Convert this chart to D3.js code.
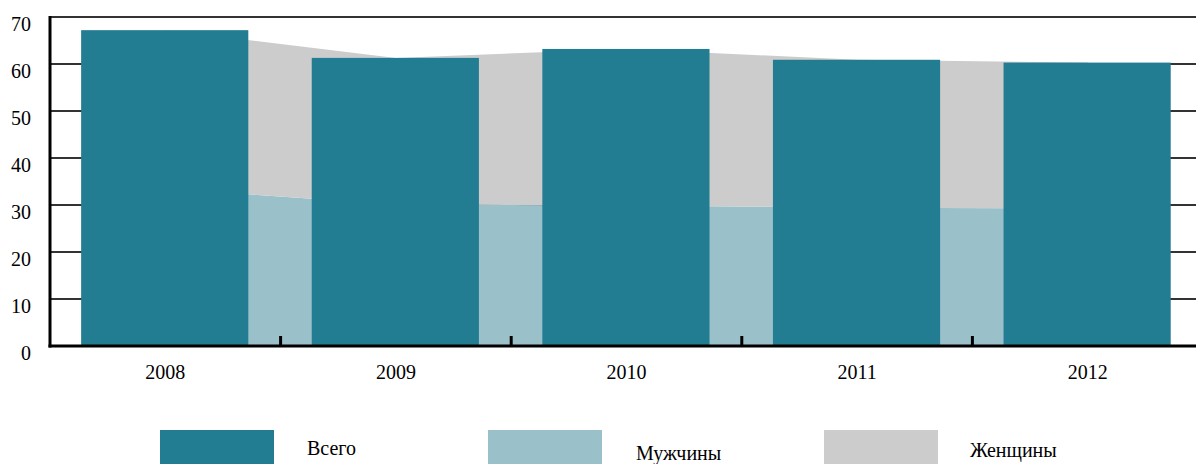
<!DOCTYPE html>
<html>
<head>
<meta charset="utf-8">
<script src="https://cdn.jsdelivr.net/npm/d3@7"></script>
<style>
  html, body { margin: 0; padding: 0; background: #fff; }
  svg { display: block; }
</style>
</head>
<body>
<div id="chart"></div>
<script>
// ─── Data ───
const years = ['2008', '2009', '2010', '2011', '2012'];
const total = [67.2, 61.3, 63.2, 60.9, 60.3];
const men = [33.5, 30.1, 29.9, 29.4, 29.3];
const women = [33.7, 31.2, 33.3, 31.5, 31.0];
const yTicks = [0, 10, 20, 30, 40, 50, 60, 70];
const legendLabels = ['Всего', 'Мужчины', 'Женщины'];

const cfg = {
  w: 1196,
  h: 464,
  left: 50,
  right: 1203,
  top: 17,
  bottom: 346,
  totalColor: '#237d92',
  menColor: '#9ac1ca',
  womenColor: '#cccccc',
  font: "'Times New Roman', Times, 'Liberation Serif', serif",
  fontSize: '20px',
};

const svg = d3.select('#chart')
  .append('svg')
  .attr('width', cfg.w)
  .attr('height', cfg.h);

const x = d3.scaleBand()
  .domain(years)
  .range([cfg.left, cfg.right])
  .padding(0);

const y = d3.scaleLinear()
  .domain([0, 70])
  .range([cfg.bottom, cfg.top]);

const cx = d => x(d) + x.bandwidth() / 2;

// ─── Grid lines ───
svg.append('g')
  .selectAll('line')
  .data(yTicks.filter(t => t > 0))
  .join('line')
  .attr('x1', cfg.left).attr('x2', cfg.w)
  .attr('y1', d => y(d)).attr('y2', d => y(d))
  .attr('stroke', '#333')
  .attr('stroke-width', 2);

// ─── Stacked areas (men + women) ───
const rows = years.map((yr, i) => ({ year: yr, men: men[i], women: women[i] }));
const stack = d3.stack().keys(['men', 'women'])(rows);

const area = d3.area()
  .x(d => cx(d.data.year))
  .y0(d => y(d[0]))
  .y1(d => y(d[1]));

svg.append('g')
  .selectAll('path')
  .data(stack)
  .join('path')
  .attr('d', area)
  .attr('fill', (d, i) => i === 0 ? cfg.menColor : cfg.womenColor);

// ─── Total bars ───
svg.append('g')
  .selectAll('rect')
  .data(years)
  .join('rect')
  .attr('x', d => x(d) + x.bandwidth() * 0.135)
  .attr('width', x.bandwidth() * 0.725)
  .attr('y', (d, i) => y(total[i]))
  .attr('height', (d, i) => y(0) - y(total[i]))
  .attr('fill', cfg.totalColor);

// ─── Axes ───
svg.append('line')
  .attr('x1', cfg.left).attr('x2', cfg.left)
  .attr('y1', y(70) - 1).attr('y2', y(0) + 1.5)
  .attr('stroke', '#000')
  .attr('stroke-width', 3);

svg.append('line')
  .attr('x1', cfg.left - 1.5).attr('x2', cfg.w)
  .attr('y1', y(0)).attr('y2', y(0))
  .attr('stroke', '#000')
  .attr('stroke-width', 3);

// category separators
svg.append('g')
  .selectAll('line')
  .data(years.slice(1))
  .join('line')
  .attr('x1', d => x(d)).attr('x2', d => x(d))
  .attr('y1', y(0)).attr('y2', y(0) - 10)
  .attr('stroke', '#000')
  .attr('stroke-width', 3);

// y labels
svg.append('g')
  .selectAll('text')
  .data(yTicks)
  .join('text')
  .attr('x', 31)
  .attr('y', d => y(d) + 14)
  .attr('text-anchor', 'end')
  .attr('font-family', cfg.font)
  .attr('font-size', cfg.fontSize)
  .attr('fill', '#000')
  .text(d => d);

// x labels
svg.append('g')
  .selectAll('text')
  .data(years)
  .join('text')
  .attr('x', d => cx(d))
  .attr('y', 379)
  .attr('text-anchor', 'middle')
  .attr('font-family', cfg.font)
  .attr('font-size', cfg.fontSize)
  .attr('fill', '#000')
  .text(d => d);

// ─── Legend ───
const legendX = [160, 488, 824];
const legendTextX = [307, 636, 970];
const legendTextY = [455, 460, 457];
const legendColors = [cfg.totalColor, cfg.menColor, cfg.womenColor];

const lg = svg.append('g');
legendLabels.forEach((label, i) => {
  lg.append('rect')
    .attr('x', legendX[i])
    .attr('y', 430)
    .attr('width', 114)
    .attr('height', 34)
    .attr('fill', legendColors[i]);
  lg.append('text')
    .attr('x', legendTextX[i])
    .attr('y', legendTextY[i])
    .attr('font-family', cfg.font)
    .attr('font-size', cfg.fontSize)
    .attr('fill', '#000')
    .text(label);
});
</script>
</body>
</html>
